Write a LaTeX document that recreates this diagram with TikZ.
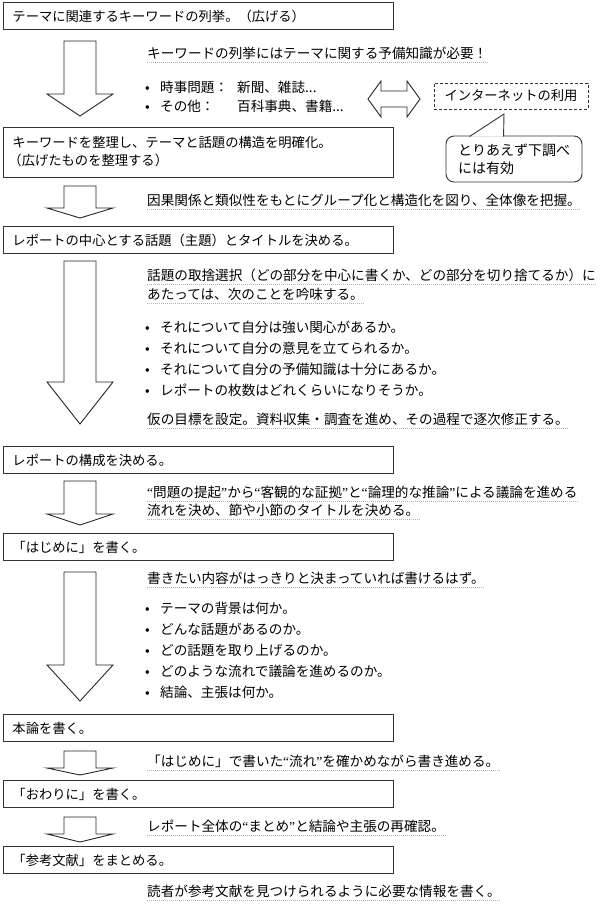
\documentclass[tikz,border=0pt]{standalone}
\usepackage{fontspec}
\newfontfamily\jp{Noto Sans CJK JP}
\newfontfamily\lat{Liberation Serif}
\usetikzlibrary{calc}
\newcommand{\qo}{{\lat “}}
\newcommand{\qc}{{\lat ”}}
\newcommand{\bul}{\makebox[15pt][l]{•}}

\begin{document}
\begin{tikzpicture}[x=1pt, y=-1pt,
    stepbox/.style={draw=black!80, line width=0.9pt, anchor=west, minimum width=390pt, minimum height=27pt,
        text width=372pt, inner xsep=9pt, align=left, font=\jp\fontsize{13.3}{18}\selectfont},
    note/.style={anchor=west, inner xsep=0pt, inner ysep=1.5pt, text height=11.5pt, text depth=2.5pt,
        font=\jp\fontsize{13.6}{18}\selectfont},
    dotline/.style={gray!60, line width=0.5pt, dash pattern=on 1pt off 1pt},
    blockarrow/.style={draw=black!85, line width=0.9pt, fill=white, line join=miter},
    dashbox/.style={draw=black!80, line width=0.9pt, dash pattern=on 3pt off 2pt, minimum width=154pt,
        minimum height=26pt, font=\jp\fontsize{13.3}{18}\selectfont},
    memo/.style={draw=black!80, line width=0.9pt, fill=white, rounded corners=8pt, minimum width=136pt,
        minimum height=46pt, align=left, font=\jp\fontsize{14}{18}\selectfont}]
\useasboundingbox (0,0) rectangle (600,905);
\fill[white] (0,0) rectangle (600,905);

% steps
\node[stepbox] (keyword) at (3,16) {テーマに関連するキーワードの列挙。（広げる）};
\node[stepbox, minimum height=50pt] (arrange) at (3,152) {キーワードを整理し、テーマと話題の構造を明確化。\\\hspace{-4pt}（広げたものを整理する）};
\node[stepbox] (topic) at (3,240) {レポートの中心とする話題（主題）とタイトルを決める。};
\node[stepbox] (frame) at (3,460) {レポートの構成を決める。};
\node[stepbox] (intro) at (3,547) {「はじめに」を書く。};
\node[stepbox] (body) at (3,728) {本論を書く。};
\node[stepbox] (outro) at (3,794) {「おわりに」を書く。};
\node[stepbox] (refs) at (3,860) {「参考文献」をまとめる。};

% down arrows
\foreach \t/\b/\p in {41/94/116, 186/208/218, 261/382/424, 481/514/525, 572/665/701, 751/768/775, 817/834/842}
    \draw[blockarrow] (64,\t) -- (96,\t) -- (96,\b) -- (113,\b) -- (80,\p) -- (47,\b) -- (64,\b) -- cycle;

% notes
\node[note] (need) at (147,54) {キーワードの列挙にはテーマに関する予備知識が必要！};
\node[note] (src1) at (145,88) {\bul\makebox[77pt][l]{時事問題：}新聞、雑誌...};
\node[note] (src2) at (145,107) {\bul\makebox[77pt][l]{その他：}百科事典、書籍...};
\node[note] (group) at (147,201) {因果関係と類似性をもとにグループ化と構造化を図り、全体像を把握。};
\node[note] (sel1) at (147,276) {話題の取捨選択（どの部分を中心に書くか、どの部分を切り捨てるか）に};
\node[note] (sel2) at (147,295) {あたっては、次のことを吟味する。};
\foreach \y/\t [count=\i] in {328/それについて自分は強い関心があるか。, 349/それについて自分の意見を立てられるか。,
        370/それについて自分の予備知識は十分にあるか。, 391/レポートの枚数はどれくらいになりそうか。}
    \node[note] (ask\i) at (145,\y) {\bul\t};
\node[note] (goal) at (147,420) {仮の目標を設定。資料収集・調査を進め、その過程で逐次修正する。};
\node[note] (flow1) at (147,493) {\qo 問題の提起\qc から\qo 客観的な証拠\qc と\qo 論理的な推論\qc による議論を進める};
\node[note] (flow2) at (147,511) {流れを決め、節や小節のタイトルを決める。};
\node[note] (clear) at (147,579) {書きたい内容がはっきりと決まっていれば書けるはず。};
\foreach \y/\t [count=\i] in {609/テーマの背景は何か。, 630/どんな話題があるのか。, 651/どの話題を取り上げるのか。,
        672/どのような流れで議論を進めるのか。, 693/結論、主張は何か。}
    \node[note] (point\i) at (145,\y) {\bul\t};
\node[note] (check) at (147,762) {「はじめに」で書いた\qo 流れ\qc を確かめながら書き進める。};
\node[note] (sum) at (147,827) {レポート全体の\qo まとめ\qc と結論や主張の再確認。};
\node[note] (cite) at (147,892) {読者が参考文献を見つけられるように必要な情報を書く。};
\foreach \n in {need, group, sel1, sel2, goal, flow1, flow2, clear, check, sum, cite}
    \draw[dotline] (\n.south west) -- (\n.south east);

% internet side
\draw[blockarrow] (368,99) -- (381,81) -- (381,91) -- (407,91) -- (407,81) -- (420,99)
    -- (407,117) -- (407,107) -- (381,107) -- (381,117) -- cycle;
\node[dashbox] (inet) at (511,96) {インターネットの利用};
\node[memo] (memo) at (514,159) {とりあえず下調べ\\には有効};
\coordinate (memotip) at (504,114);
\draw[draw=black!80, line width=0.9pt, fill=white] ($(memo.north west)+(24,1)$) -- (memotip) -- ($(memo.north west)+(58,1)$);
\end{tikzpicture}
\end{document}
